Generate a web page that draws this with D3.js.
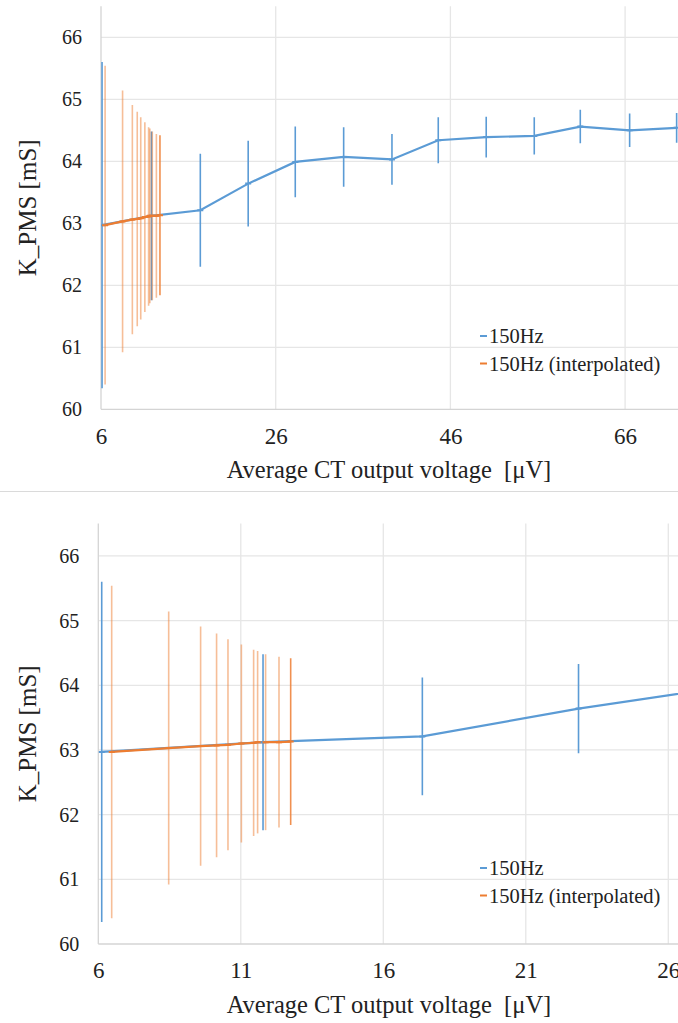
<!DOCTYPE html>
<html>
<head>
<meta charset="utf-8">
<script src="https://cdn.jsdelivr.net/npm/d3@7"></script>
<style>
  body { margin: 0; background: #fff; }
  svg { display: block; }
  svg text { font-family: "Liberation Serif", "Tinos", "Times New Roman", "DejaVu Serif", serif; }
</style>
</head>
<body>
<div id="chart-container"></div>
<script>
// measured series (150Hz) - x in µV, y in mS, err = half error bar
const blueX = [6.12, 11.78, 17.37, 22.85, 28.24, 33.78, 39.31, 44.61, 50.1, 55.6, 60.87, 66.52, 71.9];
const blueY = [62.97, 63.12, 63.21, 63.64, 63.99, 64.07, 64.03, 64.34, 64.39, 64.41, 64.56, 64.50, 64.54];
const blueErr = [2.63, 1.36, 0.91, 0.69, 0.57, 0.48, 0.41, 0.37, 0.33, 0.30, 0.27, 0.27, 0.24];

// interpolated series
const orangeX = [6.47, 8.47, 9.59, 10.15, 10.55, 11.02, 11.45, 11.59, 11.87, 12.34, 12.75];
const orangeY = [62.97, 63.03, 63.06, 63.07, 63.08, 63.10, 63.11, 63.12, 63.12, 63.12, 63.13];
const orangeErr = [2.57, 2.11, 1.85, 1.73, 1.63, 1.53, 1.44, 1.41, 1.36, 1.32, 1.29];

const yTicks = [60, 61, 62, 63, 64, 65, 66];
const xTicksTop = [6, 26, 46, 66];
const xTicksBottom = [6, 11, 16, 21, 26];
const seriesNames = ["150Hz", "150Hz (interpolated)"];

const width = 678, height = 1023;
const blue = "#5b9bd5", orange = "#ed7d31";
const font = '"Liberation Serif", "Tinos", "Times New Roman", "DejaVu Serif", serif';

const svg = d3.select("#chart-container")
  .append("svg")
  .attr("width", width)
  .attr("height", height);

const blueData = blueX.map((x, i) => ({ x: x, y: blueY[i], e: blueErr[i] }));
const orangeData = orangeX.map((x, i) => ({ x: x, y: orangeY[i], e: orangeErr[i] }));

// separator between the two panels
svg.append("line")
  .attr("x1", 0).attr("x2", width)
  .attr("y1", 491.5).attr("y2", 491.5)
  .attr("stroke", "#dadada")
  .attr("stroke-width", 1);

function drawChart(id, xScale, yScale, xTicks, legendY) {
  const g = svg.append("g");
  const [x0, x1] = xScale.range();
  const [y0, y1] = yScale.range(); // y0 bottom, y1 top

  g.append("clipPath").attr("id", "clip-" + id)
    .append("rect")
    .attr("x", x0).attr("y", y1 - 2)
    .attr("width", x1 - x0).attr("height", y0 - y1 + 4);

  // horizontal gridlines
  g.selectAll(".hgrid")
    .data(yTicks.slice(1))
    .enter()
    .append("line")
    .attr("x1", x0).attr("x2", x1)
    .attr("y1", (d) => yScale(d)).attr("y2", (d) => yScale(d))
    .attr("stroke", "#e6e6e6")
    .attr("stroke-width", 1.3);

  // vertical gridlines
  g.selectAll(".vgrid")
    .data(xTicks.slice(1))
    .enter()
    .append("line")
    .attr("x1", (d) => xScale(d)).attr("x2", (d) => xScale(d))
    .attr("y1", y1).attr("y2", y0)
    .attr("stroke", "#e6e6e6")
    .attr("stroke-width", 1.3);

  // axis lines
  g.append("line")
    .attr("x1", x0).attr("x2", x1)
    .attr("y1", y0).attr("y2", y0)
    .attr("stroke", "#d4d4d4").attr("stroke-width", 1.3);
  g.append("line")
    .attr("x1", x0).attr("x2", x0)
    .attr("y1", y1).attr("y2", y0)
    .attr("stroke", "#d4d4d4").attr("stroke-width", 1.3);

  // tick labels
  g.append("g")
    .attr("transform", `translate(${x0},0)`)
    .call(d3.axisLeft(yScale).tickValues(yTicks).tickFormat(d3.format("d")).tickSize(0).tickPadding(19))
    .call((a) => a.select(".domain").remove())
    .attr("font-family", font)
    .selectAll("text")
    .style("font-family", font)
    .style("font-size", "20px")
    .attr("fill", "#222");

  g.append("g")
    .attr("transform", `translate(0,${y0})`)
    .call(d3.axisBottom(xScale).tickValues(xTicks).tickFormat(d3.format("d")).tickSize(0).tickPadding(18))
    .call((a) => a.select(".domain").remove())
    .attr("font-family", font)
    .selectAll("text")
    .style("font-family", font)
    .style("font-size", "23px")
    .attr("fill", "#222");

  // axis titles
  g.append("text")
    .attr("x", 389)
    .attr("y", y0 + 69)
    .attr("text-anchor", "middle")
    .style("font-family", font)
    .style("font-size", "24.5px")
    .style("white-space", "pre")
    .attr("fill", "#222")
    .text("Average CT output voltage  [\u03bcV]");

  g.append("text")
    .attr("transform", `translate(27,${(y0 + y1) / 2}) rotate(-90)`)
    .attr("dy", "0.35em")
    .attr("text-anchor", "middle")
    .style("font-family", font)
    .style("font-size", "25px")
    .attr("fill", "#222")
    .text("K_PMS [mS]");

  const plot = g.append("g").attr("clip-path", `url(#clip-${id})`);

  // error bars for measured series
  plot.selectAll(".berr")
    .data(blueData)
    .enter()
    .append("line")
    .attr("x1", (d) => xScale(d.x)).attr("x2", (d) => xScale(d.x))
    .attr("y1", (d) => yScale(d.y - d.e)).attr("y2", (d) => yScale(d.y + d.e))
    .attr("stroke", blue)
    .attr("stroke-width", 1.6);

  const line = d3.line().x((d) => xScale(d.x)).y((d) => yScale(d.y));

  plot.append("path")
    .datum(blueData)
    .attr("d", line)
    .attr("fill", "none")
    .attr("stroke", blue)
    .attr("stroke-width", 2.2);

  // error bars for interpolated series (lighter, last one stronger)
  plot.selectAll(".oerr")
    .data(orangeData)
    .enter()
    .append("line")
    .attr("x1", (d) => xScale(d.x)).attr("x2", (d) => xScale(d.x))
    .attr("y1", (d) => yScale(d.y - d.e)).attr("y2", (d) => yScale(d.y + d.e))
    .attr("stroke", orange)
    .attr("stroke-opacity", (d, i) => (i === orangeData.length - 1 ? 0.85 : 0.5))
    .attr("stroke-width", 1.6);

  plot.append("path")
    .datum(orangeData)
    .attr("d", line)
    .attr("fill", "none")
    .attr("stroke", orange)
    .attr("stroke-width", 2.2);

  // small dash markers
  [[blueData, blue], [orangeData, orange]].forEach(([data, color]) => {
    plot.selectAll(null)
      .data(data)
      .enter()
      .append("line")
      .attr("x1", (d) => xScale(d.x) - 3).attr("x2", (d) => xScale(d.x) + 3)
      .attr("y1", (d) => yScale(d.y)).attr("y2", (d) => yScale(d.y))
      .attr("stroke", color)
      .attr("stroke-width", 2);
  });

  // legend
  const legend = g.selectAll(".legend")
    .data(seriesNames)
    .enter()
    .append("g")
    .attr("transform", (d, i) => `translate(480,${legendY + i * 27.5})`);

  legend.append("line")
    .attr("x1", 0).attr("x2", 7)
    .attr("y1", 0).attr("y2", 0)
    .attr("stroke", (d, i) => (i === 0 ? blue : orange))
    .attr("stroke-width", 2);

  legend.append("text")
    .attr("x", 9)
    .attr("dy", "0.35em")
    .style("font-family", font)
    .style("font-size", "20.5px")
    .attr("fill", "#222")
    .text((d) => d);
}

// top panel: full range
const xTop = d3.scaleLinear().domain([6, 86]).range([101, 101 + 80 * 8.735]);
const yTop = d3.scaleLinear().domain([60, 66.5]).range([409.3, 6.3]);
drawChart("top", xTop, yTop, xTicksTop, 336);

// bottom panel: zoom on the low-voltage part
const xBottom = d3.scaleLinear().domain([6, 31]).range([98.3, 98.3 + 25 * 28.5]);
const yBottom = d3.scaleLinear().domain([60, 66.5]).range([944, 523.6]);
drawChart("bottom", xBottom, yBottom, xTicksBottom, 868);
</script>
</body>
</html>
